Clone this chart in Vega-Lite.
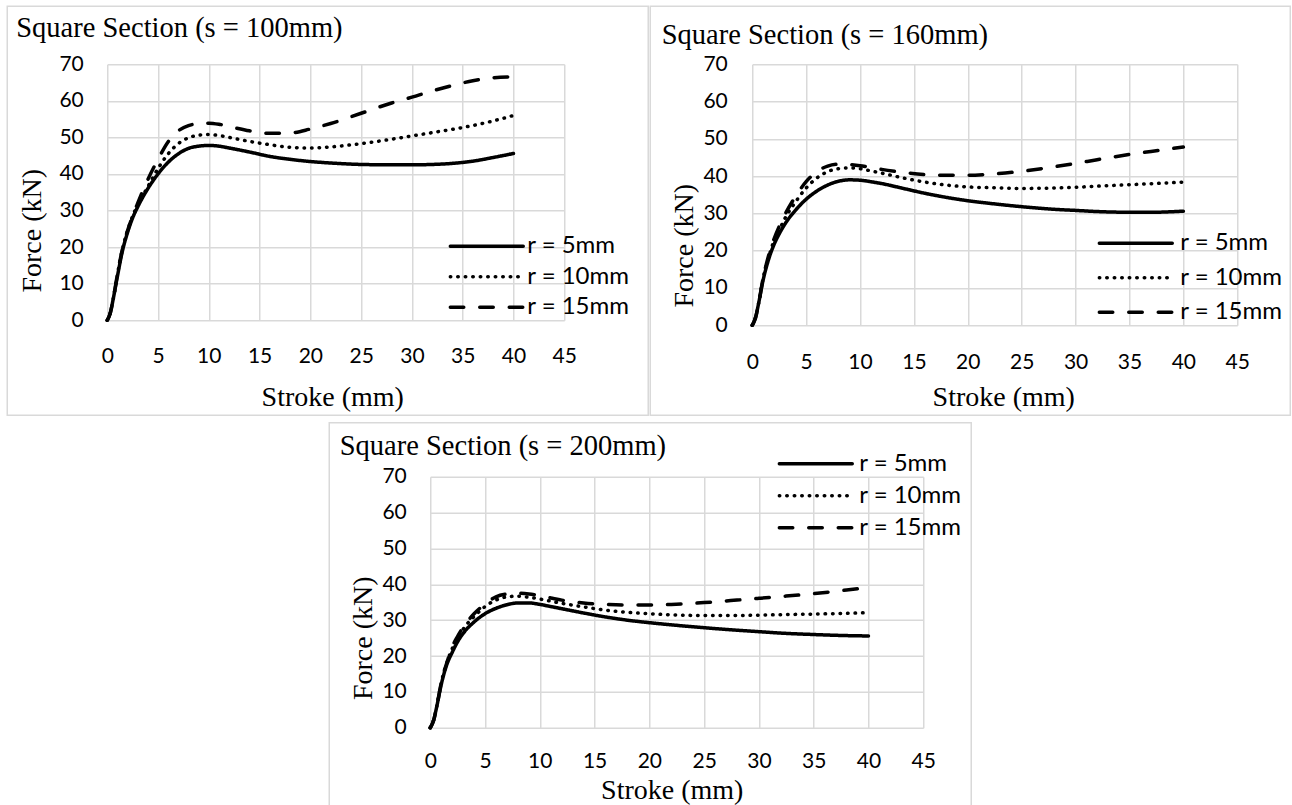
{
  "$schema": "https://vega.github.io/schema/vega-lite/v6.json",
  "background": "white",
  "padding": {"left": 6.25, "top": 5.25, "right": 0, "bottom": 0},
  "config": {
    "view": {"stroke": null},
    "axis": {
      "grid": true, "gridColor": "#d9d9d9", "gridWidth": 1.5,
      "domain": false, "ticks": false, "tickSize": 0,
      "labelFont": "Lato", "labelFontSize": 21, "labelColor": "black",
      "labelFlush": false, "labelOverlap": false,
      "titleFont": "Liberation Serif", "titleFontSize": 28, "titleFontWeight": "normal", "titleColor": "black",
      "titleBaseline": "alphabetic", "titleAlign": "center"
    },
    "legend": {
      "orient": "none", "padding": 0, "symbolType": "stroke", "symbolSize": 5329,
      "symbolStrokeWidth": 3.5, "symbolStrokeColor": "black", "symbolOffset": 0,
      "labelFont": "Lato", "labelFontSize": 24, "labelColor": "black", "clipHeight": 24
    },
    "title": {
      "font": "Liberation Serif", "fontSize": 28.5, "fontWeight": "normal", "color": "black",
      "anchor": "start", "frame": "group", "baseline": "alphabetic"
    }
  },
  "datasets": {
    "p100": [
      {"r":"r = 5mm","x":0,"f":0},{"r":"r = 5mm","x":0.3,"f":2},{"r":"r = 5mm","x":0.6,"f":6},{"r":"r = 5mm","x":1,"f":12},{"r":"r = 5mm","x":1.5,"f":19},{"r":"r = 5mm","x":2,"f":24},{"r":"r = 5mm","x":2.5,"f":28},{"r":"r = 5mm","x":3,"f":31},{"r":"r = 5mm","x":4,"f":36},{"r":"r = 5mm","x":5,"f":40},{"r":"r = 5mm","x":6,"f":43.2},{"r":"r = 5mm","x":7,"f":45.5},{"r":"r = 5mm","x":8,"f":47},{"r":"r = 5mm","x":9,"f":47.6},{"r":"r = 5mm","x":10,"f":47.8},{"r":"r = 5mm","x":11,"f":47.6},{"r":"r = 5mm","x":12,"f":47.1},{"r":"r = 5mm","x":14,"f":46},{"r":"r = 5mm","x":16,"f":44.8},{"r":"r = 5mm","x":18,"f":44},{"r":"r = 5mm","x":20,"f":43.4},{"r":"r = 5mm","x":22,"f":43},{"r":"r = 5mm","x":25,"f":42.6},{"r":"r = 5mm","x":28,"f":42.5},{"r":"r = 5mm","x":30,"f":42.5},{"r":"r = 5mm","x":32,"f":42.6},{"r":"r = 5mm","x":34,"f":42.9},{"r":"r = 5mm","x":36,"f":43.5},{"r":"r = 5mm","x":38,"f":44.5},{"r":"r = 5mm","x":40,"f":45.6},
      {"r":"r = 10mm","x":0,"f":0},{"r":"r = 10mm","x":0.3,"f":2},{"r":"r = 10mm","x":0.6,"f":6},{"r":"r = 10mm","x":1,"f":12.5},{"r":"r = 10mm","x":1.5,"f":19.5},{"r":"r = 10mm","x":2,"f":24.5},{"r":"r = 10mm","x":2.5,"f":28.5},{"r":"r = 10mm","x":3,"f":31.5},{"r":"r = 10mm","x":4,"f":36.5},{"r":"r = 10mm","x":5,"f":41.5},{"r":"r = 10mm","x":6,"f":45.5},{"r":"r = 10mm","x":7,"f":48.3},{"r":"r = 10mm","x":8,"f":49.9},{"r":"r = 10mm","x":9,"f":50.6},{"r":"r = 10mm","x":10,"f":50.8},{"r":"r = 10mm","x":11,"f":50.5},{"r":"r = 10mm","x":12,"f":50},{"r":"r = 10mm","x":14,"f":48.9},{"r":"r = 10mm","x":16,"f":48},{"r":"r = 10mm","x":18,"f":47.3},{"r":"r = 10mm","x":20,"f":47.1},{"r":"r = 10mm","x":22,"f":47.4},{"r":"r = 10mm","x":25,"f":48.3},{"r":"r = 10mm","x":28,"f":49.5},{"r":"r = 10mm","x":30,"f":50.4},{"r":"r = 10mm","x":32,"f":51.3},{"r":"r = 10mm","x":35,"f":52.7},{"r":"r = 10mm","x":38,"f":54.5},{"r":"r = 10mm","x":40,"f":56},
      {"r":"r = 15mm","x":0,"f":0},{"r":"r = 15mm","x":0.3,"f":2},{"r":"r = 15mm","x":0.6,"f":6},{"r":"r = 15mm","x":1,"f":12.5},{"r":"r = 15mm","x":1.5,"f":19.5},{"r":"r = 15mm","x":2,"f":24.5},{"r":"r = 15mm","x":2.5,"f":28.5},{"r":"r = 15mm","x":3,"f":32},{"r":"r = 15mm","x":4,"f":38.5},{"r":"r = 15mm","x":5,"f":44},{"r":"r = 15mm","x":6,"f":48.8},{"r":"r = 15mm","x":7,"f":51.8},{"r":"r = 15mm","x":8,"f":53.2},{"r":"r = 15mm","x":9,"f":53.8},{"r":"r = 15mm","x":10,"f":53.9},{"r":"r = 15mm","x":11,"f":53.6},{"r":"r = 15mm","x":12,"f":53},{"r":"r = 15mm","x":14,"f":51.8},{"r":"r = 15mm","x":16,"f":51.1},{"r":"r = 15mm","x":18,"f":51.2},{"r":"r = 15mm","x":20,"f":52.3},{"r":"r = 15mm","x":22,"f":53.8},{"r":"r = 15mm","x":25,"f":56.6},{"r":"r = 15mm","x":28,"f":59.4},{"r":"r = 15mm","x":30,"f":61},{"r":"r = 15mm","x":32,"f":62.7},{"r":"r = 15mm","x":34,"f":64.2},{"r":"r = 15mm","x":36,"f":65.5},{"r":"r = 15mm","x":38,"f":66.3},{"r":"r = 15mm","x":40,"f":66.6}
    ],
    "p160": [
      {"r":"r = 5mm","x":0,"f":0},{"r":"r = 5mm","x":0.3,"f":2},{"r":"r = 5mm","x":0.6,"f":6},{"r":"r = 5mm","x":1,"f":12},{"r":"r = 5mm","x":1.5,"f":17.5},{"r":"r = 5mm","x":2,"f":21.5},{"r":"r = 5mm","x":2.5,"f":24.5},{"r":"r = 5mm","x":3,"f":27},{"r":"r = 5mm","x":4,"f":30.8},{"r":"r = 5mm","x":5,"f":33.8},{"r":"r = 5mm","x":6,"f":36},{"r":"r = 5mm","x":7,"f":37.6},{"r":"r = 5mm","x":8,"f":38.6},{"r":"r = 5mm","x":9,"f":39},{"r":"r = 5mm","x":10,"f":38.9},{"r":"r = 5mm","x":11,"f":38.5},{"r":"r = 5mm","x":12,"f":38},{"r":"r = 5mm","x":14,"f":36.7},{"r":"r = 5mm","x":16,"f":35.4},{"r":"r = 5mm","x":18,"f":34.3},{"r":"r = 5mm","x":20,"f":33.4},{"r":"r = 5mm","x":22,"f":32.7},{"r":"r = 5mm","x":25,"f":31.8},{"r":"r = 5mm","x":28,"f":31.1},{"r":"r = 5mm","x":30,"f":30.8},{"r":"r = 5mm","x":32,"f":30.5},{"r":"r = 5mm","x":35,"f":30.3},{"r":"r = 5mm","x":37,"f":30.3},{"r":"r = 5mm","x":40,"f":30.6},
      {"r":"r = 10mm","x":0,"f":0},{"r":"r = 10mm","x":0.3,"f":2},{"r":"r = 10mm","x":0.6,"f":6},{"r":"r = 10mm","x":1,"f":12.5},{"r":"r = 10mm","x":1.5,"f":18},{"r":"r = 10mm","x":2,"f":22.5},{"r":"r = 10mm","x":2.5,"f":25.5},{"r":"r = 10mm","x":3,"f":28.5},{"r":"r = 10mm","x":4,"f":33},{"r":"r = 10mm","x":5,"f":36.8},{"r":"r = 10mm","x":6,"f":39.5},{"r":"r = 10mm","x":7,"f":41.2},{"r":"r = 10mm","x":8,"f":42},{"r":"r = 10mm","x":9,"f":42.2},{"r":"r = 10mm","x":10,"f":42},{"r":"r = 10mm","x":11,"f":41.4},{"r":"r = 10mm","x":12,"f":40.8},{"r":"r = 10mm","x":14,"f":39.5},{"r":"r = 10mm","x":16,"f":38.4},{"r":"r = 10mm","x":18,"f":37.6},{"r":"r = 10mm","x":20,"f":37.1},{"r":"r = 10mm","x":22,"f":36.9},{"r":"r = 10mm","x":25,"f":36.7},{"r":"r = 10mm","x":28,"f":36.8},{"r":"r = 10mm","x":30,"f":37},{"r":"r = 10mm","x":32,"f":37.3},{"r":"r = 10mm","x":35,"f":37.7},{"r":"r = 10mm","x":38,"f":38.1},{"r":"r = 10mm","x":40,"f":38.4},
      {"r":"r = 15mm","x":0,"f":0},{"r":"r = 15mm","x":0.3,"f":2},{"r":"r = 15mm","x":0.6,"f":6},{"r":"r = 15mm","x":1,"f":12.5},{"r":"r = 15mm","x":1.5,"f":18.5},{"r":"r = 15mm","x":2,"f":23},{"r":"r = 15mm","x":2.5,"f":26.5},{"r":"r = 15mm","x":3,"f":29.5},{"r":"r = 15mm","x":4,"f":34.5},{"r":"r = 15mm","x":5,"f":38.5},{"r":"r = 15mm","x":6,"f":41.2},{"r":"r = 15mm","x":7,"f":42.7},{"r":"r = 15mm","x":8,"f":43.2},{"r":"r = 15mm","x":9,"f":43.1},{"r":"r = 15mm","x":10,"f":42.8},{"r":"r = 15mm","x":11,"f":42.3},{"r":"r = 15mm","x":12,"f":41.8},{"r":"r = 15mm","x":14,"f":41},{"r":"r = 15mm","x":16,"f":40.4},{"r":"r = 15mm","x":18,"f":40.2},{"r":"r = 15mm","x":20,"f":40.2},{"r":"r = 15mm","x":22,"f":40.5},{"r":"r = 15mm","x":25,"f":41.3},{"r":"r = 15mm","x":28,"f":42.5},{"r":"r = 15mm","x":30,"f":43.4},{"r":"r = 15mm","x":32,"f":44.4},{"r":"r = 15mm","x":35,"f":45.8},{"r":"r = 15mm","x":38,"f":47},{"r":"r = 15mm","x":40,"f":47.8}
    ],
    "p200": [
      {"r":"r = 5mm","x":0,"f":0},{"r":"r = 5mm","x":0.3,"f":2},{"r":"r = 5mm","x":0.6,"f":6},{"r":"r = 5mm","x":1,"f":12},{"r":"r = 5mm","x":1.5,"f":17.5},{"r":"r = 5mm","x":2,"f":21},{"r":"r = 5mm","x":2.5,"f":24},{"r":"r = 5mm","x":3,"f":26.3},{"r":"r = 5mm","x":4,"f":29.5},{"r":"r = 5mm","x":5,"f":31.8},{"r":"r = 5mm","x":6,"f":33.3},{"r":"r = 5mm","x":7,"f":34.3},{"r":"r = 5mm","x":8,"f":34.8},{"r":"r = 5mm","x":9,"f":34.8},{"r":"r = 5mm","x":10,"f":34.4},{"r":"r = 5mm","x":11,"f":33.8},{"r":"r = 5mm","x":12,"f":33.2},{"r":"r = 5mm","x":14,"f":32},{"r":"r = 5mm","x":16,"f":30.9},{"r":"r = 5mm","x":18,"f":30},{"r":"r = 5mm","x":20,"f":29.3},{"r":"r = 5mm","x":22,"f":28.7},{"r":"r = 5mm","x":25,"f":27.9},{"r":"r = 5mm","x":28,"f":27.2},{"r":"r = 5mm","x":30,"f":26.8},{"r":"r = 5mm","x":32,"f":26.4},{"r":"r = 5mm","x":35,"f":26},{"r":"r = 5mm","x":38,"f":25.7},{"r":"r = 5mm","x":40,"f":25.6},
      {"r":"r = 10mm","x":0,"f":0},{"r":"r = 10mm","x":0.3,"f":2},{"r":"r = 10mm","x":0.6,"f":6},{"r":"r = 10mm","x":1,"f":12.5},{"r":"r = 10mm","x":1.5,"f":18},{"r":"r = 10mm","x":2,"f":22},{"r":"r = 10mm","x":2.5,"f":25},{"r":"r = 10mm","x":3,"f":27.5},{"r":"r = 10mm","x":4,"f":31},{"r":"r = 10mm","x":5,"f":33.8},{"r":"r = 10mm","x":6,"f":35.6},{"r":"r = 10mm","x":7,"f":36.5},{"r":"r = 10mm","x":8,"f":36.7},{"r":"r = 10mm","x":9,"f":36.4},{"r":"r = 10mm","x":10,"f":35.9},{"r":"r = 10mm","x":11,"f":35.3},{"r":"r = 10mm","x":12,"f":34.7},{"r":"r = 10mm","x":14,"f":33.7},{"r":"r = 10mm","x":16,"f":32.8},{"r":"r = 10mm","x":18,"f":32.2},{"r":"r = 10mm","x":20,"f":31.8},{"r":"r = 10mm","x":22,"f":31.5},{"r":"r = 10mm","x":25,"f":31.3},{"r":"r = 10mm","x":28,"f":31.3},{"r":"r = 10mm","x":30,"f":31.4},{"r":"r = 10mm","x":33,"f":31.6},{"r":"r = 10mm","x":35,"f":31.7},{"r":"r = 10mm","x":38,"f":31.9},{"r":"r = 10mm","x":40,"f":32.1},
      {"r":"r = 15mm","x":0,"f":0},{"r":"r = 15mm","x":0.3,"f":2},{"r":"r = 15mm","x":0.6,"f":6},{"r":"r = 15mm","x":1,"f":12.5},{"r":"r = 15mm","x":1.5,"f":18},{"r":"r = 15mm","x":2,"f":22.5},{"r":"r = 15mm","x":2.5,"f":25.5},{"r":"r = 15mm","x":3,"f":28},{"r":"r = 15mm","x":4,"f":31.8},{"r":"r = 15mm","x":5,"f":34.5},{"r":"r = 15mm","x":6,"f":36.5},{"r":"r = 15mm","x":7,"f":37.3},{"r":"r = 15mm","x":8,"f":37.5},{"r":"r = 15mm","x":9,"f":37.3},{"r":"r = 15mm","x":10,"f":36.8},{"r":"r = 15mm","x":11,"f":36.2},{"r":"r = 15mm","x":12,"f":35.6},{"r":"r = 15mm","x":14,"f":34.8},{"r":"r = 15mm","x":16,"f":34.4},{"r":"r = 15mm","x":18,"f":34.2},{"r":"r = 15mm","x":20,"f":34.2},{"r":"r = 15mm","x":22,"f":34.4},{"r":"r = 15mm","x":25,"f":34.9},{"r":"r = 15mm","x":28,"f":35.6},{"r":"r = 15mm","x":30,"f":36.1},{"r":"r = 15mm","x":32,"f":36.6},{"r":"r = 15mm","x":35,"f":37.4},{"r":"r = 15mm","x":38,"f":38.4},{"r":"r = 15mm","x":40,"f":39.1}
    ]
  },
  "spacing": 5.5,
  "resolve": {"scale": {"strokeDash": "independent"}, "legend": {"strokeDash": "independent"}},
  "vconcat": [
    {
      "hconcat": [
        {
          "width": 457, "height": 256,
          "title": {"text": "Square Section (s = 100mm)", "dx": -91, "offset": -37.45},
          "layer": [
            {
              "data": {"values": [{}]},
              "mark": {"type": "rect", "fill": "transparent", "stroke": "#d9d9d9", "strokeWidth": 1.5},
              "encoding": {
                "x": {"datum": -9.847, "type": "quantitative", "scale": {"domain": [0, 45], "nice": false, "zero": false}},
                "x2": {"datum": 53.27},
                "y": {"datum": 85.86, "type": "quantitative", "scale": {"domain": [0, 70], "nice": false, "zero": false}},
                "y2": {"datum": -25.98}
              }
            },
            {
              "data": {"name": "p100"},
              "mark": {"type": "line", "interpolate": "monotone", "color": "black", "strokeWidth": 3.5, "strokeCap": "round", "strokeJoin": "round"},
              "encoding": {
                "x": {"field": "x", "type": "quantitative", "scale": {"domain": [0, 45], "nice": false, "zero": false},
                      "axis": {"values": [0,5,10,15,20,25,30,35,40,45], "tickCount": 20, "title": "Stroke (mm)", "labelPadding": 25, "titleX": 225, "titleY": 85}},
                "y": {"field": "f", "type": "quantitative", "scale": {"domain": [0, 70], "nice": false, "zero": false},
                      "axis": {"values": [0,10,20,30,40,50,60,70], "tickCount": 20, "title": "Force (kN)", "labelPadding": 24, "titleX": -67, "titleY": 166}},
                "strokeDash": {"field": "r", "type": "nominal",
                  "scale": {"domain": ["r = 5mm", "r = 10mm", "r = 15mm"], "range": [[1, 0], [0.5, 7], [13.5, 16]]},
                  "legend": {"title": null, "legendX": 341, "legendY": 170, "rowPadding": 6.5, "labelOffset": 2,
                             "encode": {"symbols": {"update": {"strokeCap": {"value": "round"}}}}}}
              }
            }
          ]
        },
        {
          "width": 485, "height": 261,
          "title": {"text": "Square Section (s = 160mm)", "dx": -90.5, "offset": -44.05},
          "layer": [
            {
              "data": {"values": [{}]},
              "mark": {"type": "rect", "fill": "transparent", "stroke": "#d9d9d9", "strokeWidth": 1.5},
              "encoding": {
                "x": {"datum": -9.464, "type": "quantitative", "scale": {"domain": [0, 45], "nice": false, "zero": false}},
                "x2": {"datum": 49.92},
                "y": {"datum": 85.556, "type": "quantitative", "scale": {"domain": [0, 70], "nice": false, "zero": false}},
                "y2": {"datum": -24.138}
              }
            },
            {
              "data": {"name": "p160"},
              "mark": {"type": "line", "interpolate": "monotone", "color": "black", "strokeWidth": 3.5, "strokeCap": "round", "strokeJoin": "round"},
              "encoding": {
                "x": {"field": "x", "type": "quantitative", "scale": {"domain": [0, 45], "nice": false, "zero": false},
                      "axis": {"values": [0,5,10,15,20,25,30,35,40,45], "tickCount": 20, "title": "Stroke (mm)", "labelPadding": 26, "titleX": 251, "titleY": 80}},
                "y": {"field": "f", "type": "quantitative", "scale": {"domain": [0, 70], "nice": false, "zero": false},
                      "axis": {"values": [0,10,20,30,40,50,60,70], "tickCount": 20, "title": "Force (kN)", "labelPadding": 25, "titleX": -60, "titleY": 181}},
                "strokeDash": {"field": "r", "type": "nominal",
                  "scale": {"domain": ["r = 5mm", "r = 10mm", "r = 15mm"], "range": [[1, 0], [0.5, 7], [13.5, 16]]},
                  "legend": {"title": null, "legendX": 345, "legendY": 167, "rowPadding": 10.5, "labelOffset": 6,
                             "encode": {"symbols": {"update": {"strokeCap": {"value": "round"}}}}}}
              }
            }
          ]
        }
      ],
      "spacing": 188,
      "bounds": "flush",
      "resolve": {"scale": {"strokeDash": "independent"}, "legend": {"strokeDash": "independent"}}
    },
    {
      "hconcat": [
        {
          "width": 323, "height": 10,
          "data": {"values": []},
          "mark": {"type": "point", "opacity": 0}
        },
        {
          "width": 493, "height": 251,
          "title": {"text": "Square Section (s = 200mm)", "dx": -90.5, "offset": -38.05},
          "layer": [
            {
              "data": {"values": [{}]},
              "mark": {"type": "rect", "fill": "transparent", "stroke": "#d9d9d9", "strokeWidth": 1.5},
              "encoding": {
                "x": {"datum": -9.219, "type": "quantitative", "scale": {"domain": [0, 45], "nice": false, "zero": false}},
                "x2": {"datum": 49.38},
                "y": {"datum": 85.06, "type": "quantitative", "scale": {"domain": [0, 70], "nice": false, "zero": false}},
                "y2": {"datum": -22.03}
              }
            },
            {
              "data": {"name": "p200"},
              "mark": {"type": "line", "interpolate": "monotone", "color": "black", "strokeWidth": 3.5, "strokeCap": "round", "strokeJoin": "round"},
              "encoding": {
                "x": {"field": "x", "type": "quantitative", "scale": {"domain": [0, 45], "nice": false, "zero": false},
                      "axis": {"values": [0,5,10,15,20,25,30,35,40,45], "tickCount": 20, "title": "Stroke (mm)", "labelPadding": 22.5, "titleX": 241.5, "titleY": 71}},
                "y": {"field": "f", "type": "quantitative", "scale": {"domain": [0, 70], "nice": false, "zero": false},
                      "axis": {"values": [0,10,20,30,40,50,60,70], "tickCount": 20, "title": "Force (kN)", "labelPadding": 24, "titleX": -59, "titleY": 161}},
                "strokeDash": {"field": "r", "type": "nominal",
                  "scale": {"domain": ["r = 5mm", "r = 10mm", "r = 15mm"], "range": [[1, 0], [0.5, 7], [13.5, 16]]},
                  "legend": {"title": null, "legendX": 347, "legendY": -25, "rowPadding": 8, "labelOffset": 5,
                             "encode": {"symbols": {"update": {"strokeCap": {"value": "round"}}}}}}
              }
            }
          ]
        }
      ],
      "spacing": 0,
      "bounds": "flush",
      "resolve": {"scale": {"strokeDash": "independent"}, "legend": {"strokeDash": "independent"}}
    }
  ]
}
